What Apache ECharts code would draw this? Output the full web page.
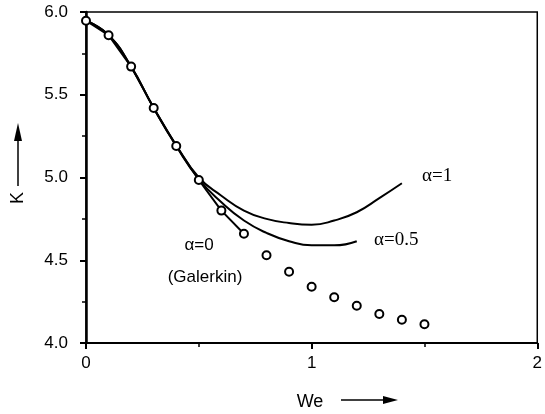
<!DOCTYPE html>
<html>
<head>
<meta charset="utf-8">
<script src="https://cdn.jsdelivr.net/npm/echarts@6/dist/echarts.min.js"></script>
<style>
  html, body { margin: 0; padding: 0; background: #fff; }
  #chart { width: 545px; height: 414px; }
</style>
</head>
<body>
<div id="chart"></div>
<script>
  // Galerkin (alpha=0) points, open circles
  var galerkinWe = [0, 0.1, 0.2, 0.3, 0.4, 0.5, 0.6, 0.7, 0.8, 0.9, 1.0, 1.1, 1.2, 1.3, 1.4, 1.5];
  var galerkinK = [5.947, 5.86, 5.67, 5.42, 5.19, 4.985, 4.80, 4.66, 4.53, 4.43, 4.34, 4.276, 4.225, 4.175, 4.14, 4.113];
  // alpha=0 line joins the first eight circles
  var alpha0We = [0, 0.1, 0.2, 0.3, 0.4, 0.5, 0.6, 0.7];
  var alpha0K = [5.947, 5.86, 5.67, 5.42, 5.19, 4.985, 4.80, 4.66];
  // alpha=0.5 curve
  var alpha05We = [0, 0.1, 0.2, 0.3, 0.4, 0.5, 0.6, 0.7, 0.8, 0.9, 1.0, 1.1, 1.2];
  var alpha05K = [5.947, 5.86, 5.67, 5.42, 5.19, 4.99, 4.85, 4.74, 4.665, 4.615, 4.59, 4.59, 4.615];
  // alpha=1 curve
  var alpha1We = [0, 0.1, 0.2, 0.3, 0.4, 0.5, 0.6, 0.7, 0.8, 0.9, 1.0, 1.1, 1.2, 1.3, 1.4];
  var alpha1K = [5.947, 5.86, 5.67, 5.42, 5.195, 5.0, 4.89, 4.80, 4.75, 4.725, 4.715, 4.74, 4.79, 4.875, 4.965];

  function pairs(xs, ys) {
    return xs.map(function (x, i) { return [x, ys[i]]; });
  }

  var chart = echarts.init(document.getElementById('chart'));
  var sans = 'Liberation Sans, Arial, sans-serif';
  var serif = 'Liberation Serif, Times New Roman, serif';

  var option = {
    animation: false,
    backgroundColor: '#fff',
    grid: {
      left: 86, right: 3, top: 12, bottom: 71,
      show: true,
      borderColor: '#000',
      borderWidth: 1.5
    },
    xAxis: {
      type: 'value',
      min: 0, max: 2, interval: 1,
      axisLine: { lineStyle: { color: '#000', width: 2 } },
      axisTick: { inside: false, length: 6, lineStyle: { color: '#000', width: 2 } },
      minorTick: { show: true, splitNumber: 2, length: 4, lineStyle: { color: '#000', width: 1.5 } },
      splitLine: { show: false },
      axisLabel: { color: '#000', fontFamily: sans, fontSize: 17, margin: 12 }
    },
    yAxis: {
      type: 'value',
      min: 4, max: 6, interval: 0.5,
      axisLine: { show: true, lineStyle: { color: '#000', width: 2.5 } },
      axisTick: { show: true, inside: false, length: 6, lineStyle: { color: '#000', width: 2 } },
      minorTick: { show: true, splitNumber: 2, length: 4, lineStyle: { color: '#000', width: 1.5 } },
      splitLine: { show: false },
      axisLabel: {
        color: '#000', fontFamily: sans, fontSize: 17, margin: 18,
        formatter: function (v) { return v.toFixed(1); }
      }
    },
    series: [{
      name: 'alpha=1',
      type: 'line',
      smooth: true,
      symbol: 'none',
      data: pairs(alpha1We, alpha1K),
      lineStyle: { color: '#000', width: 2 },
      z: 2
    }, {
      name: 'alpha=0.5',
      type: 'line',
      smooth: true,
      symbol: 'none',
      data: pairs(alpha05We, alpha05K),
      lineStyle: { color: '#000', width: 2 },
      z: 2
    }, {
      name: 'alpha=0',
      type: 'line',
      smooth: false,
      symbol: 'none',
      data: pairs(alpha0We, alpha0K),
      lineStyle: { color: '#000', width: 2 },
      z: 3
    }, {
      name: 'Galerkin',
      type: 'scatter',
      symbol: 'circle',
      symbolSize: 8,
      data: pairs(galerkinWe, galerkinK),
      itemStyle: { color: '#fff', borderColor: '#000', borderWidth: 2, opacity: 1 },
      z: 5
    }],
    graphic: [
      // y axis name with arrow
      { type: 'text', x: 18, y: 198, rotation: Math.PI / 2,
        style: { text: 'K', font: '18px ' + sans, fill: '#000', align: 'center', verticalAlign: 'middle' } },
      { type: 'line', shape: { x1: 18, y1: 186, x2: 18, y2: 136 }, style: { stroke: '#000', lineWidth: 1.5 } },
      { type: 'polygon', shape: { points: [[18, 123], [14, 141], [22, 141]] }, style: { fill: '#000' } },
      // x axis name with arrow
      { type: 'text', x: 310, y: 402,
        style: { text: 'We', font: '18px ' + sans, fill: '#000', align: 'center', verticalAlign: 'middle' } },
      { type: 'line', shape: { x1: 341, y1: 400, x2: 388, y2: 400 }, style: { stroke: '#000', lineWidth: 1.5 } },
      { type: 'polygon', shape: { points: [[398, 400], [383, 396], [383, 404]] }, style: { fill: '#000' } },
      // curve labels
      { type: 'text', x: 422, y: 176,
        style: { text: 'α=1', font: '19px ' + serif, fill: '#000', align: 'left', verticalAlign: 'middle' } },
      { type: 'text', x: 374, y: 240,
        style: { text: 'α=0.5', font: '19px ' + serif, fill: '#000', align: 'left', verticalAlign: 'middle' } },
      { type: 'text', x: 199, y: 245,
        style: { text: 'α=0', font: '17px ' + sans, fill: '#000', align: 'center', verticalAlign: 'middle' } },
      { type: 'text', x: 205, y: 277,
        style: { text: '(Galerkin)', font: '17px ' + sans, fill: '#000', align: 'center', verticalAlign: 'middle' } }
    ]
  };
  chart.setOption(option);
</script>
</body>
</html>
